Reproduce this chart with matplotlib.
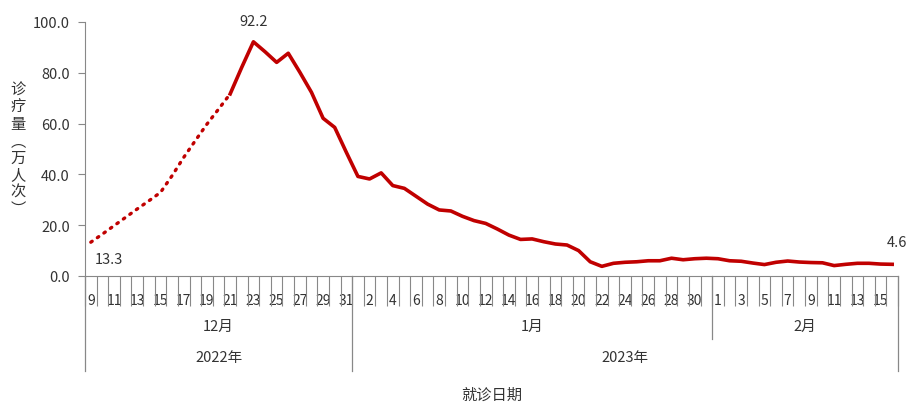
import matplotlib.pyplot as plt
import numpy as np

plt.rcParams['font.family'] = ['Noto Sans CJK SC', 'DejaVu Sans']

# daily visits (10k), Dec 9 2022 - Feb 16 2023
dec_days = list(range(9, 32))
jan_days = list(range(1, 32))
feb_days = list(range(1, 17))
days = dec_days + jan_days + feb_days

dec_vals = [13.3, 16.5, 19.8, 23.1, 26.4, 29.6, 32.9, 39.5, 46.7, 53.3, 59.8, 65.7,
            71.7, 82.2, 92.2, 88.3, 84.1, 87.7, 80.2, 72.3, 62.1, 58.5, 48.7]
jan_vals = [39.2, 38.2, 40.6, 35.6, 34.5, 31.4, 28.3, 26.0, 25.6, 23.5, 21.8, 20.7,
            18.5, 16.1, 14.4, 14.6, 13.5, 12.6, 12.2, 10.0, 5.6, 3.8, 5.0, 5.4,
            5.6, 6.0, 6.0, 7.0, 6.4, 6.8, 7.0]
feb_vals = [6.8, 6.0, 5.8, 5.1, 4.5, 5.4, 5.9, 5.5, 5.3, 5.2, 4.1, 4.6, 5.0, 5.0,
            4.7, 4.6]
values = dec_vals + jan_vals + feb_vals

months = ['12月', '1月', '2月']
years = ['2022年', '2023年']
n_dotted = 13  # Dec 9 - Dec 21 estimated

red = '#C00000'
fig = plt.figure(figsize=(9.09, 4.06), dpi=100)
ax = fig.add_axes([85 / 909, 1 - 277 / 406, 813 / 909, 254 / 406])

x = np.arange(len(values))
ax.plot(x[:n_dotted], values[:n_dotted], color=red, lw=2.4,
        linestyle=(0, (0.5, 1.9)), dash_capstyle='round')
ax.plot(x[n_dotted - 1:], values[n_dotted - 1:], color=red, lw=2.6,
        solid_joinstyle='round')

ax.set_xlim(-0.5, len(values) - 0.5)
ax.set_ylim(0, 100)
ax.set_yticks(np.arange(0, 101, 20))
ax.set_yticklabels([f'{v:.1f}' for v in np.arange(0, 101, 20)], fontsize=10.5,
                   color='#333333')
ax.tick_params(axis='y', length=5, color='#888888', pad=6)

for s in ['top', 'right']:
    ax.spines[s].set_visible(False)
for s in ['left', 'bottom']:
    ax.spines[s].set_color('#888888')

# day labels every other day, boundaries as minor ticks
ax.set_xticks(x[::2])
ax.set_xticklabels([str(d) for d in days[::2]], fontsize=10, color='#333333')
ax.set_xticks(np.arange(-0.5, len(values)), minor=True)
ax.tick_params(axis='x', which='major', length=0, pad=12)
ax.tick_params(axis='x', which='minor', length=21.6, color='#888888', width=0.8)

# month / year separators
tr = ax.get_xaxis_transform()
h = 254.0
n_dec, n_jan = len(dec_days), len(jan_days)
for xb, depth in [(-0.5, 95), (n_dec - 0.5, 95), (n_dec + n_jan - 0.5, 63),
                  (len(values) - 0.5, 95)]:
    ax.plot([xb, xb], [0, -depth / h], transform=tr, color='#888888', lw=0.9,
            clip_on=False)

month_centers = [(n_dec - 1) / 2, n_dec + (n_jan - 1) / 2,
                 n_dec + n_jan + (len(feb_days) - 1) / 2]
for c, m in zip(month_centers, months):
    ax.text(c, -50 / h, m, transform=tr, ha='center', va='center', fontsize=10.5,
            color='#333333')
year_centers = [(n_dec - 1) / 2, n_dec + (n_jan + len(feb_days) - 1) / 2]
for c, yl in zip(year_centers, years):
    ax.text(c, -81 / h, yl, transform=tr, ha='center', va='center', fontsize=10.5,
            color='#333333')
ax.text(0.5 * (len(values) - 1), -118 / h, '就诊日期', transform=tr, ha='center',
        va='center', fontsize=11, color='#333333')

# y label, stacked vertically
fig.text(18 / 909, 1 - 150 / 406, '诊\n疗\n量\n︵\n万\n人\n次\n︶', ha='center',
         va='center', fontsize=11, color='#333333', linespacing=1.0)

# value annotations
ax.annotate('92.2', (14, values[14]), xytext=(0, 10), textcoords='offset points',
            ha='center', va='bottom', fontsize=10.5, color='#333333')
ax.annotate('13.3', (0, values[0]), xytext=(3, -7), textcoords='offset points',
            ha='left', va='top', fontsize=10.5, color='#333333')
ax.annotate('4.6', (len(values) - 1, values[-1]), xytext=(-4, 11),
            textcoords='offset points', ha='left', va='bottom', fontsize=10.5,
            color='#333333', annotation_clip=False)

fig.savefig('out.png', dpi=100)
